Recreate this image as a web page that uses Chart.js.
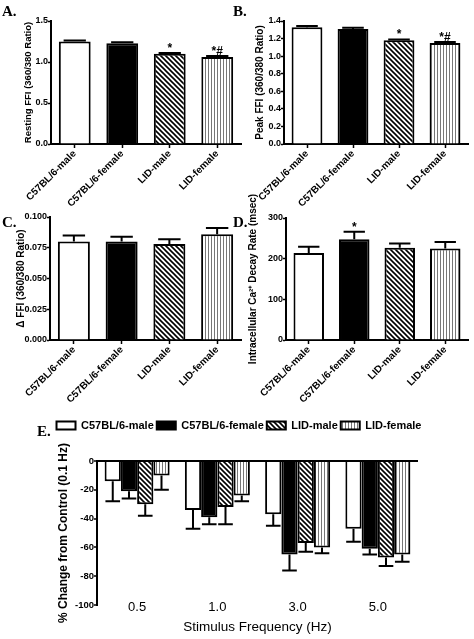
<!DOCTYPE html>
<html><head><meta charset="utf-8">
<script src="https://cdn.jsdelivr.net/npm/chart.js@4"></script>
<style>
html,body{margin:0;padding:0;background:#fff;}
#wrap{position:relative;width:474px;height:639px;overflow:hidden;background:#fff;}
canvas{position:absolute;}
.lbl{position:absolute;font:bold 15px/15px "Liberation Serif","Times New Roman",serif;color:#000;}
</style></head><body>
<div id="wrap">
<canvas id="cA" width="245" height="210" style="left:0;top:0"></canvas>
<canvas id="cB" width="233" height="210" style="left:241px;top:0"></canvas>
<canvas id="cC" width="245" height="235" style="left:0;top:200px"></canvas>
<canvas id="cD" width="233" height="250" style="left:241px;top:185px"></canvas>
<canvas id="cE" width="474" height="229" style="left:2px;top:410px"></canvas>
<div class="lbl" style="left:2px;top:4px">A.</div>
<div class="lbl" style="left:233px;top:4px">B.</div>
<div class="lbl" style="left:2px;top:215px">C.</div>
<div class="lbl" style="left:233px;top:215px">D.</div>
<div class="lbl" style="left:37px;top:424px">E.</div>
</div>
<script>
// ---- data ----
const groups = ['C57BL/6-male', 'C57BL/6-female', 'LID-male', 'LID-female'];

const restingFFI = [1.25, 1.23, 1.10, 1.06];
const restingErr = [0.012, 0.01, 0.01, 0.012];
const restingMarks = ['', '', '*', '*#'];
const restingTicks = [0, 0.5, 1.0, 1.5];
const restingTickLabels = ['0.0', '0.5', '1.0', '1.5'];

const peakFFI = [1.33, 1.31, 1.18, 1.15];
const peakErr = [0.012, 0.012, 0.01, 0.012];
const peakMarks = ['', '', '*', '*#'];
const peakTicks = [0, 0.2, 0.4, 0.6, 0.8, 1.0, 1.2, 1.4];
const peakTickLabels = ['0.0', '0.2', '0.4', '0.6', '0.8', '1.0', '1.2', '1.4'];

const deltaFFI = [0.080, 0.080, 0.078, 0.086];
const deltaErr = [0.005, 0.004, 0.004, 0.005];
const deltaMarks = ['', '', '', ''];
const deltaTicks = [0, 0.025, 0.05, 0.075, 0.1];
const deltaTickLabels = ['0.000', '0.025', '0.050', '0.075', '0.100'];

const decayRate = [214, 248, 227, 225];
const decayErr = [15, 18, 10, 16];
const decayMarks = ['', '*', '', ''];
const decayTicks = [0, 100, 200, 300];
const decayTickLabels = ['0', '100', '200', '300'];

const freqLabels = ['0.5', '1.0', '3.0', '5.0'];
const c57Male = [-14, -34, -37, -47];
const c57MaleErr = [14, 13, 8, 9];
const c57Female = [-21, -39, -65, -61];
const c57FemaleErr = [5, 5, 11, 4];
const lidMale = [-30, -32, -57, -67];
const lidMaleErr = [8, 12, 6, 6];
const lidFemale = [-10, -24, -60, -65];
const lidFemaleErr = [10, 4, 4, 5];
const changeTicks = [-100, -80, -60, -40, -20, 0];
const changeTickLabels = ['-100', '-80', '-60', '-40', '-20', '0'];

// ---- styles ----
Chart.defaults.font.family = "'Liberation Sans', Arial, sans-serif";
Chart.defaults.color = '#000';

function diagPattern() {
  const s = 5;
  const c = document.createElement('canvas'); c.width = s; c.height = s;
  const g = c.getContext('2d');
  g.fillStyle = '#fff'; g.fillRect(0, 0, s, s);
  g.strokeStyle = '#000'; g.lineWidth = 1.6;
  g.beginPath();
  g.moveTo(-1, -1); g.lineTo(s + 1, s + 1);
  g.moveTo(-1, s - 1); g.lineTo(1, s + 1);
  g.moveTo(s - 1, -1); g.lineTo(s + 1, 1);
  g.stroke();
  return g.createPattern(c, 'repeat');
}
function vertPattern() {
  const c = document.createElement('canvas'); c.width = 3; c.height = 2;
  const g = c.getContext('2d');
  g.fillStyle = '#fff'; g.fillRect(0, 0, 3, 2);
  g.fillStyle = '#777'; g.fillRect(1, 0, 1, 2);
  return g.createPattern(c, 'repeat');
}
const diag = diagPattern();
const vert = vertPattern();
const fills = ['#ffffff', '#000000', diag, vert];

const errorBarPlugin = {
  id: 'errorBars',
  afterDatasetsDraw(chart, args, opts) {
    const ctx = chart.ctx;
    const ys = chart.scales.y;
    chart.data.datasets.forEach((ds, di) => {
      if (!ds.errors) return;
      const meta = chart.getDatasetMeta(di);
      meta.data.forEach((bar, i) => {
        const v = ds.data[i], e = ds.errors[i];
        const end = v < 0 ? v - e : v + e;
        const yv = ys.getPixelForValue(v), ye = ys.getPixelForValue(end);
        const half = bar.width * opts.cap / 2;
        ctx.save();
        ctx.strokeStyle = '#000'; ctx.lineWidth = 2;
        ctx.beginPath();
        ctx.moveTo(bar.x, yv); ctx.lineTo(bar.x, ye);
        ctx.moveTo(bar.x - half, ye); ctx.lineTo(bar.x + half, ye);
        ctx.stroke();
        if (ds.marks && ds.marks[i]) {
          ctx.fillStyle = '#000';
          ctx.font = "bold 12px 'Liberation Sans', Arial, sans-serif";
          ctx.textAlign = 'center'; ctx.textBaseline = 'alphabetic';
          ctx.fillText(ds.marks[i], bar.x, ye - 1);
        }
        ctx.restore();
      });
    });
  }
};

function fixedTicks(vals) {
  return (s) => { s.ticks = vals.map(v => ({ value: v })); };
}

function panel(id, values, errors, marks, tickVals, tickLabels, title, o) {
  return new Chart(document.getElementById(id), {
    type: 'bar',
    data: {
      labels: groups,
      datasets: [{
        data: values, errors: errors, marks: marks,
        backgroundColor: fills, borderColor: '#000', borderWidth: 2,
        categoryPercentage: 1, barPercentage: 0.67
      }]
    },
    options: {
      responsive: false, animation: false, devicePixelRatio: 1,
      layout: { padding: { top: o.top, right: o.right, left: 0, bottom: 0 } },
      plugins: { legend: { display: false }, tooltip: { enabled: false }, errorBars: { cap: 0.7 } },
      scales: {
        x: {
          z: 1,
          grid: { display: true, offset: false, drawOnChartArea: false, drawTicks: true, tickLength: 4, tickColor: '#000', tickWidth: 1.5 },
          border: { display: true, color: '#000', width: 2 },
          ticks: { minRotation: 45, maxRotation: 45, autoSkip: false, padding: 0, color: '#000', font: { weight: 'bold', size: 10 } },
          afterFit: (s) => { s.height = o.xh; }
        },
        y: {
          min: tickVals[0], max: tickVals[tickVals.length - 1],
          afterBuildTicks: fixedTicks(tickVals),
          grid: { display: true, drawOnChartArea: false, drawTicks: true, tickLength: 3, tickColor: '#000', tickWidth: 1.5 },
          border: { display: true, color: '#000', width: 2 },
          ticks: { padding: 0, color: '#000', font: { weight: 'bold', size: 9 }, callback: (v, i) => tickLabels[i] },
          title: { display: true, text: title, color: '#000', font: { weight: 'bold', size: o.tf }, padding: { top: o.tp, bottom: 0 } },
          afterFit: (s) => { s.width = o.yw; }
        }
      }
    },
    plugins: [errorBarPlugin]
  });
}

panel('cA', restingFFI, restingErr, restingMarks, restingTicks, restingTickLabels,
  'Resting FFI (360/380 Ratio)', { top: 21, right: 4, xh: 66, yw: 51, tp: 22.5, tf: 9.5 });
panel('cB', peakFFI, peakErr, peakMarks, peakTicks, peakTickLabels,
  'Peak FFI (360/380 Ratio)', { top: 21, right: 6, xh: 66, yw: 43, tp: 13.5, tf: 10 });
panel('cC', deltaFFI, deltaErr, deltaMarks, deltaTicks, deltaTickLabels,
  '\u0394 FFI (360/380 Ratio)', { top: 17, right: 4, xh: 95, yw: 50, tp: 15, tf: 10 });
panel('cD', decayRate, decayErr, decayMarks, decayTicks, decayTickLabels,
  'Intracellular Ca\u00B2\u207A Decay Rate (msec)', { top: 33, right: 6, xh: 95, yw: 45, tp: 6.5, tf: 10 });

new Chart(document.getElementById('cE'), {
  type: 'bar',
  data: {
    labels: freqLabels,
    datasets: [
      { label: 'C57BL/6-male', data: c57Male, errors: c57MaleErr, backgroundColor: '#ffffff' },
      { label: 'C57BL/6-female', data: c57Female, errors: c57FemaleErr, backgroundColor: '#000000' },
      { label: 'LID-male', data: lidMale, errors: lidMaleErr, backgroundColor: diag },
      { label: 'LID-female', data: lidFemale, errors: lidFemaleErr, backgroundColor: vert }
    ]
  },
  options: {
    responsive: false, animation: false, devicePixelRatio: 1,
    layout: { padding: { top: 7, right: 0, left: 0, bottom: 0 } },
    datasets: { bar: { categoryPercentage: 0.81, barPercentage: 1, borderColor: '#000', borderWidth: 2, xAxisID: 'x', yAxisID: 'y' } },
    plugins: {
      tooltip: { enabled: false },
      errorBars: { cap: 0.9 },
      legend: {
        display: true, position: 'top',
        labels: { color: '#000', boxWidth: 19, boxHeight: 8, padding: 3, font: { weight: 'bold', size: 11 } }
      }
    },
    scales: {
      x: {
        position: 'bottom',
        grid: { display: false, drawTicks: false },
        border: { display: false },
        ticks: { mirror: true, padding: -10, color: '#000', font: { size: 13 } },
        title: { display: true, text: 'Stimulus Frequency (Hz)', color: '#000', font: { size: 13.5 }, padding: { top: 0, bottom: 4 } },
        afterFit: (s) => { s.height = 34; }
      },
      xTop: {
        type: 'category', position: 'top', display: true,
        grid: { display: false, drawTicks: false }, border: { display: false }, ticks: { display: false },
        afterFit: (s) => { s.height = 20; }
      },
      y: {
        z: 1,
        min: changeTicks[0], max: changeTicks[changeTicks.length - 1],
        afterBuildTicks: fixedTicks(changeTicks),
        grid: {
          display: true, drawOnChartArea: true, drawTicks: true, tickLength: 3,
          color: (c) => (c.tick && c.tick.value === 0 ? '#000' : 'rgba(0,0,0,0)'),
          lineWidth: 2, tickColor: '#000', tickWidth: 1.5
        },
        border: { display: true, color: '#000', width: 2 },
        ticks: { padding: 0, color: '#000', font: { weight: 'bold', size: 9.5 }, callback: (v, i) => changeTickLabels[i] },
        title: { display: true, text: '% Change from Control (0.1 Hz)', color: '#000', font: { weight: 'bold', size: 12 }, padding: { top: 54, bottom: 0 } },
        afterFit: (s) => { s.width = 95; }
      },
      y2: {
        type: 'linear', position: 'right', display: true,
        grid: { display: false, drawTicks: false }, border: { display: false }, ticks: { display: false },
        afterFit: (s) => { s.width = 58; }
      }
    }
  },
  plugins: [errorBarPlugin]
});
</script>
</body></html>
